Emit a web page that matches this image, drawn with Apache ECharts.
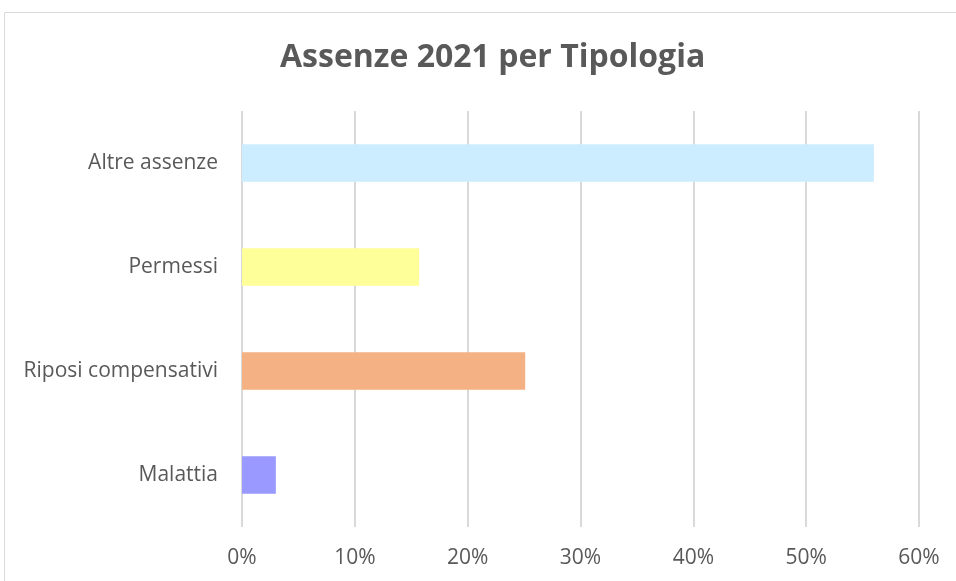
<!DOCTYPE html>
<html><head><meta charset="utf-8">
<script src="https://cdn.jsdelivr.net/npm/echarts@6/dist/echarts.min.js"></script>
<style>html,body{margin:0;padding:0;background:#fff}#c{width:956px;height:581px}</style>
</head><body><div id="c"></div>
<script>
const title = "Assenze 2021 per Tipologia";
const categories = ["Altre assenze", "Permessi", "Riposi compensativi", "Malattia"];
const values = [0.560, 0.157, 0.251, 0.030];
const colors = ["#CCECFF", "#FFFF99", "#F4B183", "#9999FF"];
const xTicks = { min: 0, max: 0.6, interval: 0.1 };

const chart = echarts.init(document.getElementById('c'));
chart.setOption({
  animation: false,
  backgroundColor: '#fff',
  graphic: [{ type: 'rect', shape: { x: 4.5, y: 12.5, width: 960, height: 600 }, style: { fill: 'none', stroke: '#d9d9d9', lineWidth: 1 }, silent: true }],
  title: { text: title, left: 275, top: 37, textStyle: { fontFamily: 'Open Sans', fontWeight: 'bold', fontSize: 32, color: '#595959' } },
  grid: { left: 242, right: 37, top: 111, bottom: 54, containLabel: false },
  xAxis: {
    type: 'value', min: xTicks.min, max: xTicks.max, interval: xTicks.interval,
    axisLine: { show: false }, axisTick: { show: false },
    splitLine: { show: true, lineStyle: { color: '#d9d9d9', width: 2 } },
    axisLabel: { formatter: v => Math.round(v * 100) + '%', color: '#595959', fontFamily: 'Open Sans', fontSize: 21, margin: 21 }
  },
  yAxis: {
    type: 'category', data: categories, inverse: true,
    axisLine: { show: false }, axisTick: { show: false },
    axisLabel: { color: '#595959', fontFamily: 'Open Sans', fontSize: 21, margin: 24 }
  },
  series: [{
    type: 'bar', barCategoryGap: '64%',
    data: values.map((v, i) => ({ value: v, itemStyle: { color: colors[i] } }))
  }]
});
</script></body></html>
